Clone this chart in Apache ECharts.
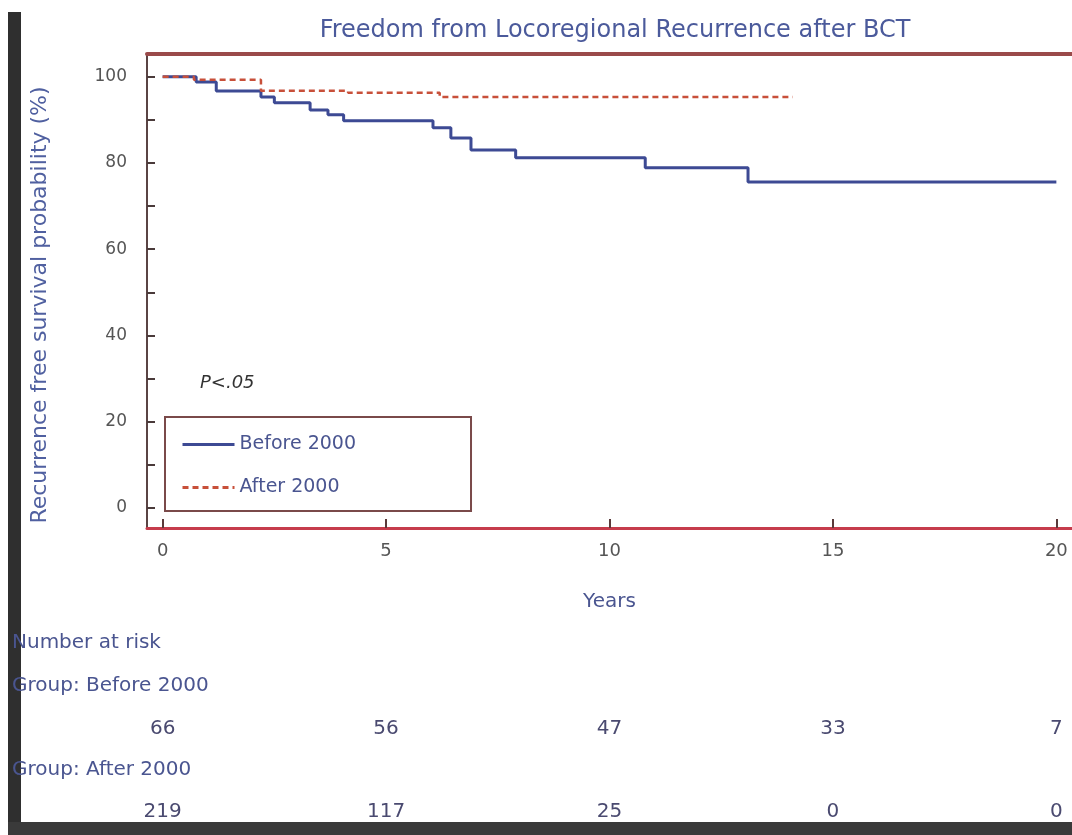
<!DOCTYPE html>
<html>
<head>
<meta charset="utf-8">
<script src="https://cdn.jsdelivr.net/npm/echarts@6/dist/echarts.min.js"></script>
<style>
html,body{margin:0;padding:0;background:#fff;}
#c{width:1072px;height:835px;}
</style>
</head>
<body>
<div id="c"></div>
<script>
// ---- data ----
const titleText = 'Freedom from Locoregional Recurrence after BCT';
const seriesNames = ['Before 2000', 'After 2000'];
const beforeTimes = [0, 0.75, 1.2, 2.2, 2.5, 3.3, 3.7, 4.05, 6.05, 6.45, 6.9, 7.9, 10.8, 13.1, 20];
const beforeSurv  = [100, 98.8, 96.7, 95.3, 94.0, 92.3, 91.2, 89.8, 88.2, 85.8, 83.0, 81.2, 78.9, 75.6, 75.6];
const afterTimes  = [0, 0.7, 2.2, 4.15, 6.2, 14.1];
const afterSurv   = [100, 99.3, 96.8, 96.3, 95.3, 95.3];
const xTicks = [0, 5, 10, 15, 20];
const yTicks = [0, 20, 40, 60, 80, 100];
const yAllTicks = [0, 10, 20, 30, 40, 50, 60, 70, 80, 90, 100];
const riskBefore = [66, 56, 47, 33, 7];
const riskAfter  = [219, 117, 25, 0, 0];

const chart = echarts.init(document.getElementById('c'), null, {renderer: 'canvas'});
const FONT = 'DejaVu Sans';
const pairs = (t, s) => t.map((v, i) => [v, s[i]]);

const option = {
  backgroundColor: '#ffffff',
  animation: false,
  title: {
    text: titleText, left: 610, top: 14, textAlign: 'center',
    textStyle: {fontFamily: FONT, fontSize: 24, fontWeight: 'normal', color: '#4b5a9b'}
  },
  grid: {left: 147, right: -9, top: 54, bottom: 307, containLabel: false},
  legend: {
    data: seriesNames, orient: 'vertical', left: 165, top: 417,
    padding: [18, 115, 14, 16], itemWidth: 52, itemHeight: 20, itemGap: 24,
    borderColor: '#7a4a4a', borderWidth: 2, backgroundColor: '#ffffff',
    itemStyle: {opacity: 0},
    lineStyle: {width: 3},
    textStyle: {fontFamily: FONT, fontSize: 19, color: '#4a5590'}
  },
  xAxis: [{
    type: 'value', min: -0.35, max: 20.35, position: 'bottom',
    name: 'Years', nameLocation: 'middle', nameGap: 64,
    nameTextStyle: {fontFamily: FONT, fontSize: 20, color: '#4a5590'},
    axisLine: {onZero: false, lineStyle: {color: '#c63c4c', width: 3}},
    axisTick: {inside: true, length: 9, customValues: xTicks, lineStyle: {color: '#5a3a3a', width: 2}},
    axisLabel: {customValues: xTicks, margin: 14, fontFamily: FONT, fontSize: 18, color: '#555'},
    splitLine: {show: false}
  }, {
    type: 'value', min: -0.35, max: 20.35, position: 'top',
    axisLine: {onZero: false, lineStyle: {color: '#9a4a4a', width: 4}},
    axisTick: {show: false}, axisLabel: {show: false}, splitLine: {show: false}
  }],
  yAxis: [{
    type: 'value', min: -4.7, max: 105.3, position: 'left',
    axisLine: {onZero: false, lineStyle: {color: '#5a4444', width: 2}},
    axisTick: {inside: true, length: 8, customValues: yAllTicks, lineStyle: {color: '#4a3a3a', width: 2}},
    axisLabel: {customValues: yTicks, margin: 20, fontFamily: FONT, fontSize: 17, color: '#555'},
    splitLine: {show: false}
  }],
  series: [{
    name: seriesNames[0], type: 'line', step: 'end', symbol: 'none',
    data: pairs(beforeTimes, beforeSurv),
    lineStyle: {color: '#3d4a94', width: 3}, itemStyle: {color: '#3d4a94'}
  }, {
    name: seriesNames[1], type: 'line', step: 'end', symbol: 'none',
    data: pairs(afterTimes, afterSurv),
    lineStyle: {color: '#c8503a', width: 2.5, type: [6, 4]}, itemStyle: {color: '#c8503a'}
  }]
};
chart.setOption(option);

// text elements & number-at-risk table placed with the axis scale
const g = [];
const txt = (x, y, s, o) => Object.assign({type: 'text', x: x, y: y, style: Object.assign({text: s, fontFamily: FONT, fontSize: 20, fill: '#4a5590', textVerticalAlign: 'middle'}, o || {})});
g.push({type: 'rect', shape: {x: 8, y: 12, width: 13, height: 823}, style: {fill: '#2f2f2f'}});
g.push({type: 'rect', shape: {x: 8, y: 822, width: 1064, height: 13}, style: {fill: '#3a3a3a'}});
g.push(txt(40, 305, 'Recurrence free survival probability (%)', {textAlign: 'center', fontSize: 22, fill: '#5060a0'}));
g[g.length - 1].rotation = Math.PI / 2;
g.push(txt(200, 383, 'P<.05', {fontStyle: 'italic', fontSize: 18, fill: '#333'}));
g.push(txt(12, 643, 'Number at risk', {fontSize: 20}));
g.push(txt(12, 686, 'Group: Before 2000', {fontSize: 20}));
g.push(txt(12, 770, 'Group: After 2000', {fontSize: 20}));
xTicks.forEach((t, i) => {
  const px = chart.convertToPixel({xAxisIndex: 0}, t);
  g.push(txt(px, 729, String(riskBefore[i]), {textAlign: 'center', fontSize: 20, fill: '#4a4a70'}));
  g.push(txt(px, 812, String(riskAfter[i]), {textAlign: 'center', fontSize: 20, fill: '#4a4a70'}));
});
chart.setOption({graphic: {elements: g}});
</script>
</body>
</html>
